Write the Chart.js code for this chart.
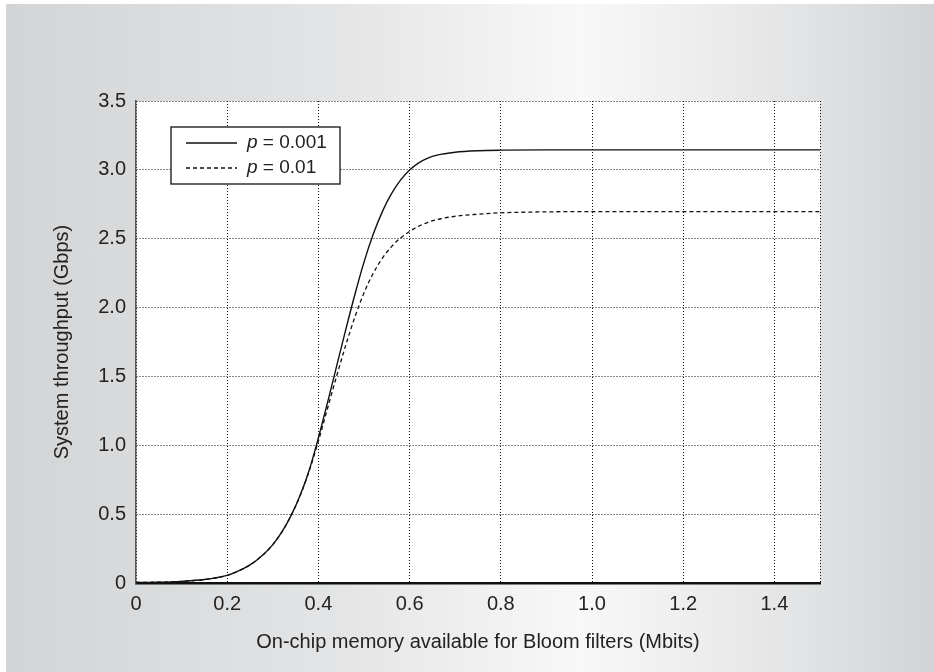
<!DOCTYPE html>
<html>
<head>
<meta charset="utf-8">
<script src="https://cdn.jsdelivr.net/npm/chart.js@4.4.1/dist/chart.umd.min.js"></script>
<style>
  html, body { margin: 0; padding: 0; background: #fff; }
  #fondo {
    position: absolute; left: 6px; top: 4px; width: 928px; height: 668px;
    background: linear-gradient(to right, #d3d4d6 0%, #e3e4e5 35%, #f8f8f8 62%, #e3e4e5 85%, #d2d3d5 100%);
  }
  #contenitore { position: absolute; left: 0; top: 0; width: 934px; height: 672px; }
</style>
</head>
<body>
<div id="fondo"></div>
<div id="contenitore"><canvas id="grafico"></canvas></div>
<script>
// --- DATI ---
const memoriaMbit = [0, 0.05, 0.1, 0.15, 0.2, 0.22, 0.25, 0.28, 0.30, 0.32, 0.34, 0.36, 0.38, 0.40,
  0.42, 0.44, 0.46, 0.48, 0.50, 0.52, 0.54, 0.56, 0.58, 0.60, 0.62, 0.64, 0.66, 0.70, 0.75, 0.80,
  0.90, 1.0, 1.2, 1.5];
const throughputP0001 = [0.004, 0.006, 0.012, 0.025, 0.055, 0.08, 0.131, 0.209, 0.279, 0.371, 0.489, 0.637, 0.821, 1.055,
  1.31, 1.575, 1.84, 2.095, 2.33, 2.53, 2.695, 2.825, 2.925, 2.999, 3.051, 3.085, 3.107, 3.128, 3.139, 3.143,
  3.145, 3.145, 3.145, 3.145];
const throughputP001 = [0.004, 0.006, 0.012, 0.025, 0.055, 0.08, 0.131, 0.209, 0.279, 0.371, 0.489, 0.635, 0.815, 1.031,
  1.267, 1.503, 1.727, 1.931, 2.107, 2.247, 2.357, 2.441, 2.505, 2.553, 2.591, 2.619, 2.639, 2.663, 2.678, 2.688,
  2.695, 2.697, 2.697, 2.697];
const valoriP = ['0.001', '0.01'];

// --- TICK DEGLI ASSI ---
const tickX = [0, 0.2, 0.4, 0.6, 0.8, 1.0, 1.2, 1.4, 1.5];
const etichetteX = ['0', '0.2', '0.4', '0.6', '0.8', '1.0', '1.2', '1.4', ''];
const tickY = [0, 0.5, 1.0, 1.5, 2.0, 2.5, 3.0, 3.5];
const etichetteY = ['0', '0.5', '1.0', '1.5', '2.0', '2.5', '3.0', '3.5'];

const FONT = '"Liberation Sans", Arial, sans-serif';

// sfondo bianco dell'area del grafico
const sfondoArea = {
  id: 'sfondoArea',
  beforeDraw(chart) {
    const { ctx, chartArea: a } = chart;
    ctx.save();
    ctx.fillStyle = '#fff';
    ctx.fillRect(a.left, a.top, a.right - a.left, a.bottom - a.top);
    ctx.restore();
  }
};

// legenda con la "p" in corsivo
const legendaPersonalizzata = {
  id: 'legendaPersonalizzata',
  afterDraw(chart) {
    const { ctx, chartArea: a } = chart;
    const x0 = a.left + 35, y0 = a.top + 26, w = 169, h = 57;
    ctx.save();
    ctx.fillStyle = '#fff';
    ctx.fillRect(x0, y0, w, h);
    ctx.strokeStyle = '#111';
    ctx.lineWidth = 1.3;
    ctx.strokeRect(x0, y0, w, h);
    chart.data.datasets.forEach((ds, i) => {
      const y = y0 + 16 + i * 25;
      ctx.beginPath();
      ctx.setLineDash(ds.borderDash || []);
      ctx.lineWidth = ds.borderWidth;
      ctx.strokeStyle = ds.borderColor;
      ctx.moveTo(x0 + 15, y);
      ctx.lineTo(x0 + 66, y);
      ctx.stroke();
      ctx.setLineDash([]);
      ctx.fillStyle = '#222';
      ctx.textBaseline = 'middle';
      ctx.font = 'italic 19px ' + FONT;
      ctx.fillText('p', x0 + 76, y);
      const wp = ctx.measureText('p').width;
      ctx.font = '19px ' + FONT;
      ctx.fillText(' = ' + valoriP[i], x0 + 76 + wp, y);
    });
    ctx.restore();
  }
};

const punti = (ys) => memoriaMbit.map((x, i) => ({ x: x, y: ys[i] }));

const ctx = document.getElementById('grafico').getContext('2d');
const grafico = new Chart(ctx, {
  type: 'line',
  data: {
    datasets: [{
      label: 'p = ' + valoriP[0],
      data: punti(throughputP0001),
      borderColor: '#111',
      borderWidth: 1.4,
      pointRadius: 0,
      cubicInterpolationMode: 'monotone'
    }, {
      label: 'p = ' + valoriP[1],
      data: punti(throughputP001),
      borderColor: '#111',
      borderWidth: 1.3,
      borderDash: [4, 3],
      pointRadius: 0,
      cubicInterpolationMode: 'monotone'
    }]
  },
  options: {
    responsive: true,
    maintainAspectRatio: false,
    animation: false,
    layout: { padding: { top: 101, right: 114, left: 0, bottom: 0 } },
    plugins: { legend: { display: false }, tooltip: { enabled: false } },
    scales: {
      x: {
        type: 'linear',
        min: 0,
        max: 1.5,
        afterBuildTicks: (s) => { s.ticks = tickX.map(v => ({ value: v })); },
        afterFit: (s) => { s.height = 89; },
        ticks: {
          autoSkip: false,
          maxRotation: 0,
          padding: 9,
          color: '#222',
          font: { family: FONT, size: 20 },
          callback: (v, i) => etichetteX[i]
        },
        grid: { color: '#111', lineWidth: 1, drawTicks: false },
        border: { display: true, color: '#111', width: 2.5, dash: [1, 2] },
        title: {
          display: true,
          text: 'On-chip memory available for Bloom filters (Mbits)',
          color: '#222',
          font: { family: FONT, size: 20 },
          padding: { top: 0, bottom: 18 }
        }
      },
      y: {
        type: 'linear',
        min: 0,
        max: 3.5,
        afterBuildTicks: (s) => { s.ticks = tickY.map(v => ({ value: v })); },
        afterFit: (s) => { s.width = 136; },
        ticks: {
          autoSkip: false,
          padding: 10,
          color: '#222',
          font: { family: FONT, size: 20 },
          callback: (v, i) => etichetteY[i]
        },
        grid: { color: '#111', lineWidth: 1, drawTicks: false },
        border: { display: true, color: '#555', width: 1.5, dash: [1, 2] },
        title: {
          display: true,
          text: 'System throughput (Gbps)',
          color: '#222',
          font: { family: FONT, size: 20 },
          padding: { top: 50, bottom: 0 }
        }
      }
    }
  },
  plugins: [sfondoArea, legendaPersonalizzata]
});
</script>
</body>
</html>
